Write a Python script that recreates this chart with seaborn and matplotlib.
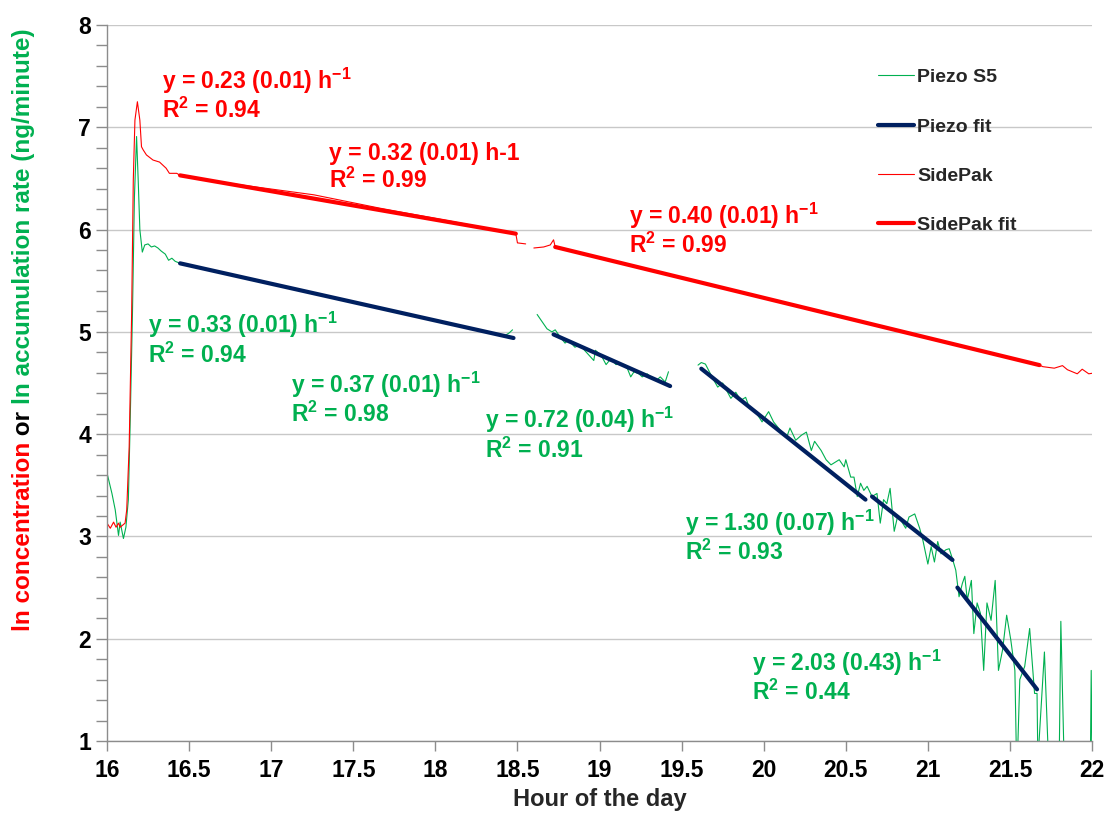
import numpy as np
import pandas as pd
import matplotlib
matplotlib.use('Agg')
import matplotlib.pyplot as plt
from matplotlib.lines import Line2D
from matplotlib.ticker import MultipleLocator
import seaborn as sns

nan = np.nan

# Piezo S5 : ln accumulation rate (NaN = trou dans les données, 0.8 = sous l'axe)
piezo_heure = [16.00, 16.03, 16.05, 16.07, 16.08, 16.10, 16.115, 16.13, 16.14, 16.155,
               16.167, 16.18, 16.19, 16.20, 16.215, 16.23, 16.25, 16.27, 16.29, 16.31,
               16.33, 16.355, 16.375, 16.395, 16.415, 16.445, 16.9, 17.4, 17.9, 18.3,
               18.42, 18.45, 18.47, nan,
               18.62, 18.65, 18.68, 18.71, 18.73, 18.76, 18.79, 18.81, 18.85, 18.88,
               18.92, 18.965, 18.975, 19.01, 19.04, 19.07, 19.10, 19.13, 19.17, 19.19,
               19.21, 19.24, 19.26, 19.29, 19.32, 19.35, 19.37, 19.40, 19.42, nan,
               19.60, 19.62, 19.645, 19.69, 19.72, 19.75, 19.78, 19.80, 19.83, 19.86,
               19.89, 19.91, 19.95, 19.99, 20.03, 20.06, 20.10, 20.14, 20.16, 20.195,
               20.23, 20.26, 20.29, 20.31, 20.35, 20.38, 20.41, 20.46, 20.49, 20.50,
               20.53, 20.55, 20.57, 20.59, 20.61, 20.63, 20.66, 20.69, 20.71, 20.73,
               20.75, 20.77, 20.795, 20.815, 20.835, 20.865, 20.885, 20.92, 20.95, 20.97,
               21.00, 21.02, 21.04, 21.06, 21.08, 21.11, 21.13, 21.15, 21.17, 21.19,
               21.21, 21.225, 21.24, 21.265, 21.28, 21.30, 21.32, 21.34, 21.36, 21.385,
               21.41, 21.43, 21.455, 21.48, 21.505, 21.53, 21.54, 21.545, 21.56, 21.59,
               21.62, 21.65, 21.665, 21.67, 21.71, 21.735, 21.80, 21.81, 21.83, 21.99,
               21.995, 22.0]
piezo_ln = [3.62, 3.42, 3.26, 3.01, 3.14, 2.98, 3.09, 3.36, 4.04, 5.18,
            6.32, 6.91, 6.48, 6.00, 5.78, 5.85, 5.86, 5.83, 5.84, 5.82,
            5.79, 5.76, 5.70, 5.72, 5.69, 5.67, 5.51, 5.33, 5.15, 5.00,
            4.96, 4.99, 5.02, nan,
            5.17, 5.10, 5.03, 5.00, 5.02, 4.95, 4.89, 4.92, 4.85, 4.87,
            4.80, 4.72, 4.82, 4.77, 4.68, 4.74, 4.68, 4.69, 4.64, 4.56,
            4.61, 4.59, 4.56, 4.59, 4.545, 4.53, 4.56, 4.51, 4.61, nan,
            4.675, 4.70, 4.685, 4.545, 4.46, 4.50, 4.41, 4.35, 4.41, 4.33,
            4.36, 4.27, 4.22, 4.12, 4.22, 4.12, 4.04, 3.97, 4.06, 3.94,
            3.99, 4.02, 3.84, 3.93, 3.84, 3.75, 3.70, 3.75, 3.68, 3.75,
            3.58, 3.58, 3.39, 3.52, 3.45, 3.49, 3.39, 3.42, 3.13, 3.36,
            3.32, 3.47, 3.05, 3.19, 3.16, 3.08, 3.19, 3.22, 3.08, 2.96,
            2.73, 2.90, 2.75, 2.95, 2.83, 2.87, 2.88, 2.78, 2.67, 2.41,
            2.54, 2.61, 2.38, 2.57, 2.05, 2.35, 2.25, 1.69, 2.35, 2.18,
            2.57, 1.69, 1.89, 2.23, 1.99, 1.69, 0.8, 0.8, 1.60, 1.73,
            2.10, 1.465, 1.465, 0.8, 1.87, 0.8, 0.8, 2.17, 0.8, 0.8,
            1.69, 0.8]

# SidePak : ln concentration
sidepak_heure = [16.00, 16.02, 16.04, 16.055, 16.07, 16.08, 16.095, 16.11, 16.12, 16.135,
                 16.15, 16.16, 16.17, 16.185, 16.20, 16.21, 16.22, 16.24, 16.28, 16.32,
                 16.36, 16.38, 16.425, 16.445, 16.8, 17.26, 17.66, 18.10, 18.49, 18.50,
                 18.55, nan,
                 18.60, 18.66, 18.70, 18.72, 18.73, 19.50, 20.30, 21.00, 21.68, 21.70,
                 21.77, 21.82, 21.85, 21.91, 21.94, 21.98, 22.0]
sidepak_ln = [3.13, 3.08, 3.14, 3.09, 3.13, 3.09, 3.11, 3.13, 3.26, 3.88,
              5.18, 6.48, 7.07, 7.25, 7.07, 6.81, 6.78, 6.73, 6.68, 6.66,
              6.60, 6.55, 6.55, 6.53, 6.44, 6.34, 6.21, 6.08, 5.96, 5.87,
              5.86, nan,
              5.82, 5.83, 5.85, 5.90, 5.83, 5.53, 5.21, 4.94, 4.675, 4.66,
              4.645, 4.67, 4.63, 4.59, 4.635, 4.59, 4.595]

# Droites d'ajustement (début / fin de chaque segment)
piezo_fit_x0 = [16.445, 18.72, 19.62, 20.66, 21.18]
piezo_fit_x1 = [18.476, 19.43, 20.62, 21.15, 21.665]
piezo_fit_y0 = [5.67, 4.975, 4.64, 3.39, 2.50]
piezo_fit_y1 = [4.94, 4.47, 3.36, 2.77, 1.505]

sidepak_fit_x0 = [16.445, 18.73]
sidepak_fit_x1 = [18.49, 21.68]
sidepak_fit_y0 = [6.53, 5.83]
sidepak_fit_y1 = [5.96, 4.675]

# Annotations : texte, x, y (ligne de base de la ligne R²), couleur
annot_textes = ["y = 0.23 (0.01) h$^{-1}$\nR$^2$ = 0.94",
                "y = 0.32 (0.01) h-1\nR$^2$ = 0.99",
                "y = 0.40 (0.01) h$^{-1}$\nR$^2$ = 0.99",
                "y = 0.33 (0.01) h$^{-1}$\nR$^2$ = 0.94",
                "y = 0.37 (0.01) h$^{-1}$\nR$^2$ = 0.98",
                "y = 0.72 (0.04) h$^{-1}$\nR$^2$ = 0.91",
                "y = 1.30 (0.07) h$^{-1}$\nR$^2$ = 0.93",
                "y = 2.03 (0.43) h$^{-1}$\nR$^2$ = 0.44"]
annot_x = [16.335, 17.35, 19.18, 16.25, 17.12, 18.30, 19.52, 19.93]
annot_y = [7.09, 6.41, 5.77, 4.70, 4.12, 3.77, 2.77, 1.40]
annot_couleur = ['red', 'red', 'red', 'green', 'green', 'green', 'green', 'green']

VERT = '#00B050'
ROUGE = '#FF0000'
MARINE = '#002060'
couleurs = {'red': ROUGE, 'green': VERT}


def trace_en_segments(x, y):
    df = pd.DataFrame({'x': x, 'y': y})
    df['seg'] = df['x'].isna().cumsum()
    return df.dropna()


def fits_en_segments(x0, x1, y0, y1):
    lignes = []
    for i in range(len(x0)):
        lignes.append({'x': x0[i], 'y': y0[i], 'seg': i})
        lignes.append({'x': x1[i], 'y': y1[i], 'seg': i})
    return pd.DataFrame(lignes)


sns.set_style('white')
plt.rcParams['font.family'] = ['Liberation Sans', 'DejaVu Sans']
plt.rcParams['font.weight'] = 'bold'
plt.rcParams['mathtext.fontset'] = 'custom'
plt.rcParams['mathtext.rm'] = 'Liberation Sans:bold'
plt.rcParams['mathtext.it'] = 'Liberation Sans:bold'
plt.rcParams['mathtext.bf'] = 'Liberation Sans:bold'

fig = plt.figure(figsize=(11.09, 8.15), dpi=100)
ax = fig.add_axes([0.0965, 0.0908, 0.8882, 0.8785])

df_piezo = trace_en_segments(piezo_heure, piezo_ln)
df_side = trace_en_segments(sidepak_heure, sidepak_ln)
df_pfit = fits_en_segments(piezo_fit_x0, piezo_fit_x1, piezo_fit_y0, piezo_fit_y1)
df_sfit = fits_en_segments(sidepak_fit_x0, sidepak_fit_x1, sidepak_fit_y0, sidepak_fit_y1)

sns.lineplot(data=df_piezo, x='x', y='y', units='seg', estimator=None, sort=False,
             color=VERT, lw=0.8, ax=ax)
sns.lineplot(data=df_pfit, x='x', y='y', units='seg', estimator=None, sort=False,
             color=MARINE, lw=3.0, ax=ax, solid_capstyle='round')
sns.lineplot(data=df_side, x='x', y='y', units='seg', estimator=None, sort=False,
             color=ROUGE, lw=0.8, ax=ax)
sns.lineplot(data=df_sfit, x='x', y='y', units='seg', estimator=None, sort=False,
             color=ROUGE, lw=3.0, ax=ax, solid_capstyle='round')

ax.set_xlim(16, 22)
ax.set_ylim(1, 8)
ax.xaxis.set_major_locator(MultipleLocator(0.5))
ax.yaxis.set_major_locator(MultipleLocator(1))
ax.yaxis.set_minor_locator(MultipleLocator(0.2))
ax.xaxis.set_major_formatter(matplotlib.ticker.FuncFormatter(lambda v, p: f'{v:g}'))
ax.grid(axis='y', which='major', color='#c8c8c8', lw=1.0)
ax.set_axisbelow(True)
for cote in ['top', 'right']:
    ax.spines[cote].set_visible(False)
for cote in ['left', 'bottom']:
    ax.spines[cote].set_color('#8c8c8c')
    ax.spines[cote].set_linewidth(1.0)
ax.tick_params(axis='both', which='both', direction='out', color='#8c8c8c', width=1.0,
               labelsize=16.5, labelcolor='black')
ax.tick_params(axis='y', which='both', length=8, left=True)
ax.tick_params(axis='x', which='major', length=7, bottom=True, pad=6)
for lab in ax.get_xticklabels() + ax.get_yticklabels():
    lab.set_fontweight('bold')

ax.set_xlabel('Hour of the day', fontsize=17, fontweight='bold', labelpad=4)
ax.set_ylabel('')

for t, x, y, c in zip(annot_textes, annot_x, annot_y, annot_couleur):
    ax.text(x, y, t, color=couleurs[c], fontsize=16.5, fontweight='bold',
            ha='left', va='baseline', linespacing=1.1)

poignees = [Line2D([], [], color=VERT, lw=0.8),
            Line2D([], [], color=MARINE, lw=3.0),
            Line2D([], [], color=ROUGE, lw=0.8),
            Line2D([], [], color=ROUGE, lw=3.0)]
noms = ['Piezo S5', 'Piezo fit', 'SidePak', 'SidePak fit']
leg = ax.legend(poignees, noms, loc='upper left', bbox_to_anchor=(0.775, 0.95),
                frameon=False, fontsize=14, labelspacing=1.63, handlelength=1.85,
                handletextpad=0.15, borderaxespad=0)
for t in leg.get_texts():
    t.set_fontweight('bold')

# Étiquette de l'axe y en trois couleurs
morceaux = [('ln concentration', ROUGE), (' or ', 'black'),
            ('ln accumulation rate (ng/minute)', VERT)]
fig.canvas.draw()
rend = fig.canvas.get_renderer()
textes = []
for s, c in morceaux:
    textes.append(fig.text(0, 0, s, color=c, fontsize=17.5, fontweight='bold',
                           rotation=90, ha='center', va='bottom'))
hauteurs = [t.get_window_extent(rend).height for t in textes]
total = sum(hauteurs)
y_px = 815 - (330 + total / 2.0)
for t, h in zip(textes, hauteurs):
    t.set_position((24 / 1109, y_px / 815))
    y_px += h

fig.savefig('out.png', dpi=100)
